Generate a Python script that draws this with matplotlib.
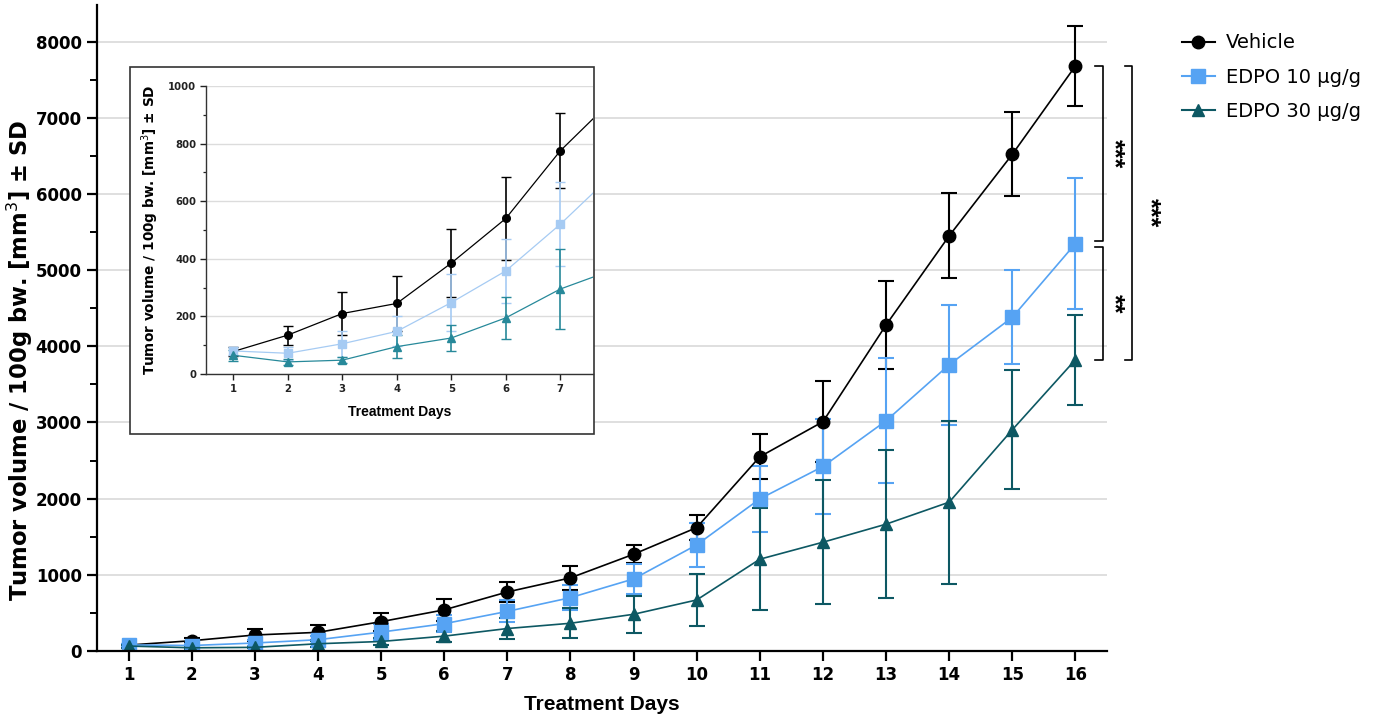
import matplotlib
matplotlib.use('AGG')
import matplotlib.pyplot as plt
from matplotlib.patches import Rectangle
from matplotlib.lines import Line2D
from matplotlib.ticker import MultipleLocator

plt.rcParams['font.family'] = ['DejaVu Sans']
ARIAL = ['Liberation Sans', 'DejaVu Sans']

days = list(range(1, 17))

vehicle = [78, 135, 210, 245, 385, 540, 775, 960, 1270, 1620, 2550, 3010, 4280, 5450, 6520, 7680]
vehicle_sd = [15, 33, 75, 95, 118, 145, 130, 160, 115, 165, 295, 535, 580, 560, 550, 520]

edpo10 = [80, 72, 105, 148, 248, 358, 520, 700, 946, 1393, 1997, 2422, 3022, 3758, 4380, 5348]
edpo10_sd = [15, 23, 45, 52, 100, 112, 145, 165, 200, 290, 430, 620, 820, 790, 615, 860]

edpo30 = [65, 42, 48, 95, 125, 195, 295, 364, 482, 670, 1205, 1428, 1665, 1954, 2904, 3824]
edpo30_sd = [20, 10, 10, 40, 45, 72, 140, 195, 243, 337, 670, 815, 970, 1070, 780, 590]

labels = ['Vehicle', 'EDPO 10 \u00b5g/g', 'EDPO 30 \u00b5g/g']

BLACK = '#000000'
BLUE = '#56a3f3'
TEAL = '#0d5863'
BLUE_IN = '#a6cbf3'
TEAL_IN = '#27899a'

fig = plt.figure(figsize=(13.74, 7.2), dpi=100)
W, H = 1374, 720

# main axes
ax = fig.add_axes([97 / W, (H - 651) / H, (1107 - 97) / W, (651 - 5) / H])
ax.set_xlim(0.5, 16.5)
ax.set_ylim(0, 8480)
ax.yaxis.set_major_locator(MultipleLocator(1000))
ax.yaxis.set_minor_locator(MultipleLocator(500))
ax.set_xticks(days)
ax.grid(axis='y', which='major', color='#d9d9d9', lw=1.2)
ax.set_axisbelow(True)
for s in ['top', 'right']:
    ax.spines[s].set_visible(False)
for s in ['left', 'bottom']:
    ax.spines[s].set_linewidth(1.6)
ax.tick_params(which='major', length=7, width=1.6, labelsize=12, pad=4)
ax.tick_params(which='minor', length=5, width=1.4)
for t in ax.get_xticklabels() + ax.get_yticklabels():
    t.set_fontweight('bold')

series = [(vehicle, vehicle_sd, BLACK, 'o', 9),
          (edpo10, edpo10_sd, BLUE, 's', 9.5),
          (edpo30, edpo30_sd, TEAL, '^', 9)]
handles = []
for (vals, sd, c, m, ms), lab in zip(series, labels):
    ax.errorbar(days, vals, yerr=sd, color=c, marker=m, markersize=ms, lw=1.2,
                elinewidth=1.5, capsize=6, capthick=1.5)
    handles.append(Line2D([], [], color=c, marker=m, markersize=ms, lw=1.5, label=lab))

ax.set_xlabel('Treatment Days', fontsize=15, fontweight='bold', family=ARIAL, labelpad=8)
ax.set_ylabel('Tumor volume / 100g bw. [mm$^3$] \u00b1 SD', fontsize=16.3, fontweight='bold')
ax.yaxis.set_label_coords(-0.061, 0.45)

# significance brackets
def bracket(x, y0, y1, w, txt, tx):
    ax.plot([x - w, x, x, x - w], [y0, y0, y1, y1], color='black', lw=1.2, clip_on=False)
    ax.text(tx, (y0 + y1) / 2, txt, rotation=270, ha='center', va='center',
            fontsize=18, fontweight='bold', family=ARIAL, clip_on=False)

bracket(16.44, vehicle[-1], edpo10[-1] + 40, 0.13, '***', 16.61)
bracket(16.44, edpo10[-1] - 50, edpo30[-1], 0.13, '**', 16.61)
bracket(16.89, vehicle[-1], edpo30[-1], 0.11, '***', 17.17)

fig.legend(handles=handles, loc='upper left', bbox_to_anchor=(1164 / W, 1 - 16 / H), frameon=False,
           fontsize=14, handlelength=1.7, handletextpad=0.6, labelspacing=0.78)

# inset frame
fig.add_artist(Rectangle((130 / W, (H - 434) / H), 464 / W, 367 / H, transform=fig.transFigure,
                         facecolor='white', edgecolor='#333333', lw=1.2, zorder=1))

axi = fig.add_axes([206 / W, (H - 374) / H, (593 - 206) / W, (374 - 86) / H], zorder=2)
axi.set_xlim(0.5, 7.6)
axi.set_ylim(0, 1000)
axi.set_xticks(range(1, 8))
axi.yaxis.set_major_locator(MultipleLocator(200))
axi.yaxis.set_minor_locator(MultipleLocator(100))
axi.grid(axis='y', which='major', color='#dcdcdc', lw=1.0)
axi.set_axisbelow(True)
for s in ['top', 'right']:
    axi.spines[s].set_visible(False)
for s in ['left', 'bottom']:
    axi.spines[s].set_linewidth(1.0)
    axi.spines[s].set_color('#333333')
axi.tick_params(which='major', length=4, width=1.0, labelsize=7.3, pad=3, colors='#222222')
axi.tick_params(which='minor', length=2.5, width=0.9, colors='#222222')
for t in axi.get_xticklabels() + axi.get_yticklabels():
    t.set_fontweight('bold')

inset_series = [(vehicle, vehicle_sd, BLACK, 'o', 5.5),
                (edpo10, edpo10_sd, BLUE_IN, 's', 6),
                (edpo30, edpo30_sd, TEAL_IN, '^', 5.5)]
for vals, sd, c, m, ms in inset_series:
    axi.errorbar(days, vals, yerr=sd, color=c, marker=m, markersize=ms, lw=0.9,
                 elinewidth=1.2, capsize=3.5, capthick=1.0)

axi.set_xlabel('Treatment Days', fontsize=10, fontweight='bold', family=ARIAL, labelpad=8)
axi.set_ylabel('Tumor volume / 100g bw. [mm$^3$] \u00b1 SD', fontsize=9.8, fontweight='bold', labelpad=5)

fig.savefig('out.png', dpi=100)
